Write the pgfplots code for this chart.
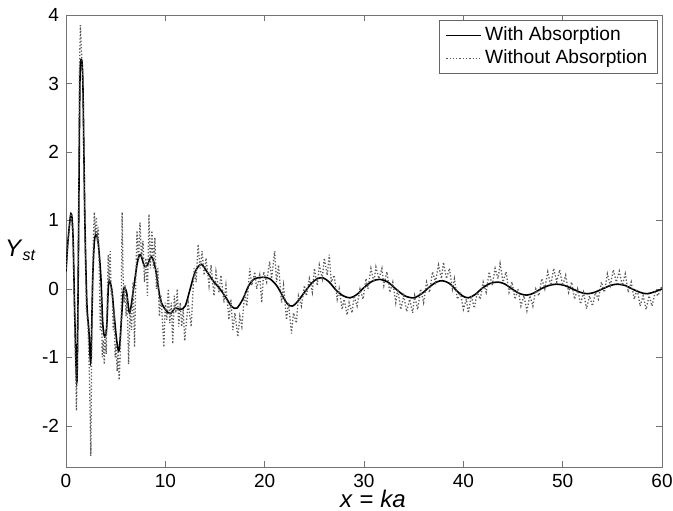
\documentclass[border=0pt]{standalone}
\usepackage{fontspec}
\setmainfont{Liberation Sans}
\usepackage{pgfplots}
\pgfplotsset{compat=1.18}

% Y_st response, with and without absorption
\begin{document}
\begin{tikzpicture}
\begin{axis}[
    scale only axis, width=298pt, height=226pt,
    xmin=0, xmax=60, ymin=-2.6, ymax=4,
    xtick={0,10,...,60}, ytick={-2,-1,...,4},
    axis line style={black!55}, tick style={black!55},
    major tick length=3pt, tick align=inside,
    tick label style={font=\fontsize{9.5}{10}\selectfont},
    /pgf/number format/assume math mode=true,
    xlabel={\textit{x} = \textit{ka}},
    xlabel style={font=\fontsize{12}{13}\selectfont, at={(rel axis cs:0.515,0)}, anchor=north, inner sep=0pt, yshift=-11.5pt},
    ylabel={\textit{Y}\textsubscript{\textit{st}}},
    ylabel style={font=\fontsize{12}{13}\selectfont, at={(rel axis cs:0,0.48)}, rotate=-90, anchor=east, inner sep=0pt, xshift=-14.5pt},
    legend style={at={(rel axis cs:0.993,0.99)}, anchor=north east, draw=black!60, font=\fontsize{9.6}{10}\selectfont, row sep=-1pt, inner xsep=3pt, inner ysep=1.5pt},
    legend cell align=left,
]
\addplot[black, line width=0.8pt, smooth, tension=0.5] coordinates {
(0,0.25)(0.2,0.7)(0.5,1.1)(0.7,0.8)(0.9,-0.5)(1.1,-1.35)(1.25,0.5)(1.4,3.0)(1.55,3.35)(1.7,3.0)
(1.9,1.0)(2.1,-0.2)(2.3,-0.6)(2.5,-1.05)(2.7,0.2)(2.9,0.75)(3.2,0.72)(3.5,0.2)(3.7,-0.5)(3.9,-0.7)
(4.1,-0.55)(4.3,0.1)(4.6,0.0)(4.8,-0.3)(5.1,-0.75)(5.35,-0.9)(5.6,-0.4)(5.8,0.0)(6.1,-0.05)(6.4,-0.35)
(6.8,0.0)(7.2,0.4)(7.5,0.5)(7.9,0.33)(8.2,0.35)(8.6,0.47)(9.0,0.3)(9.5,-0.15)(10.0,-0.3)(10.5,-0.36)
(11.0,-0.28)(11.5,-0.3)(12.0,-0.25)(12.5,0.0)(13.0,0.25)(13.6,0.36)(14.2,0.25)(14.8,0.12)(15.5,0.0)(16.2,-0.15)
(16.7,-0.26)(17.2,-0.28)(17.8,-0.15)(18.4,0.05)(19.0,0.15)(19.8,0.17)(20.5,0.15)(21.2,0.05)(21.8,-0.1)(22.3,-0.22)
(22.8,-0.25)(23.4,-0.17)(24.0,-0.05)(24.7,0.08)(25.3,0.15)(25.9,0.16)(26.5,0.1)(27.2,-0.02)(27.9,-0.1)(28.6,-0.13)
(29.3,-0.08)(30.0,0.02)(30.8,0.11)(31.6,0.14)(32.4,0.1)(33.2,0.0)(34.1,-0.1)(35.0,-0.13)(35.8,-0.07)(36.6,0.03)
(37.3,0.1)(37.9,0.12)(38.6,0.08)(39.3,-0.02)(39.9,-0.1)(40.5,-0.13)(41.2,-0.08)(41.9,0.01)(42.7,0.08)(43.5,0.1)
(44.2,0.07)(44.9,0.0)(45.7,-0.07)(46.4,-0.09)(47.1,-0.06)(47.8,0.0)(48.6,0.05)(49.4,0.07)(50.2,0.05)(51.0,0.0)
(51.8,-0.05)(52.5,-0.07)(53.2,-0.05)(54.0,0.0)(54.8,0.05)(55.5,0.07)(56.3,0.05)(57.0,0.0)(57.8,-0.05)(58.5,-0.07)
(59.3,-0.04)(60,0.0)
};
\addlegendentry{With Absorption}
\addplot[black!65, line width=0.65pt, densely dotted] coordinates {
(0.0,0.25)(0.2,0.7)(0.5,1.1)(0.7,0.8)(0.9,-0.6)(1.05,-1.78)(1.15,-0.9)(1.25,0.8)(1.35,3.2)(1.45,3.85)
(1.55,3.5)(1.7,3.0)(1.9,0.9)(2.05,-0.3)(2.2,-0.5)(2.35,-1.2)(2.5,-2.44)(2.6,-0.6)(2.75,0.7)(2.85,1.12)
(2.95,0.8)(3.05,1.05)(3.15,0.7)(3.25,0.9)(3.35,0.3)(3.45,-0.6)(3.55,-0.1)(3.65,-1.0)(3.75,-0.75)(3.85,-1.1)
(3.95,-0.6)(4.05,-0.95)(4.15,-0.2)(4.25,0.5)(4.35,0.1)(4.45,0.55)(4.55,-0.1)(4.65,0.0)(4.75,-0.6)(4.85,-0.3)
(4.95,-1.0)(5.05,-0.8)(5.15,-1.2)(5.25,-0.9)(5.35,-1.33)(5.45,-1.0)(5.55,-0.5)(5.65,1.12)(5.75,0.2)(5.85,-0.2)
(5.95,0.05)(6.05,-0.4)(6.15,-0.1)(6.3,-1.1)(6.45,-0.3)(6.6,-0.6)(6.75,0.1)(6.9,-0.85)(7.05,0.3)(7.15,0.85)
(7.3,0.4)(7.45,0.97)(7.6,0.45)(7.75,0.7)(7.9,0.1)(8.05,0.45)(8.2,-0.1)(8.35,1.09)(8.5,0.3)(8.65,0.85)
(8.8,0.3)(8.95,0.75)(9.1,0.0)(9.25,0.3)(9.4,-0.4)(9.55,-0.1)(9.7,-0.45)(9.85,-0.85)(10.0,-0.2)(10.15,-0.45)
(10.3,0.0)(10.45,-0.5)(10.6,-0.2)(10.75,-0.8)(10.9,-0.1)(11.05,-0.35)(11.2,0.0)(11.35,-0.55)(11.5,-0.2)(11.65,-0.55)
(11.8,-0.3)(11.95,-0.76)(12.3,-0.2)(12.6,-0.55)(12.9,0.3)(13.1,0.1)(13.3,0.65)(13.5,0.3)(13.7,0.55)(13.9,0.2)
(14.1,0.45)(14.4,0.05)(14.6,0.35)(14.9,-0.1)(15.1,0.25)(15.4,-0.05)(15.6,0.2)(15.9,-0.2)(16.1,0.05)(16.4,-0.45)
(16.6,-0.15)(16.8,-0.6)(17.0,-0.35)(17.3,-0.7)(17.5,-0.4)(17.7,-0.55)(18.0,-0.05)(18.2,-0.25)(18.5,0.3)(18.7,0.05)
(19.0,0.25)(19.2,0.0)(19.5,0.2)(19.7,-0.2)(19.9,0.25)(20.2,0.1)(20.5,0.4)(20.7,0.15)(21.0,0.55)(21.2,0.1)
(21.4,0.35)(21.7,-0.2)(21.9,0.05)(22.2,-0.45)(22.4,-0.2)(22.7,-0.65)(22.9,-0.35)(23.2,-0.5)(23.4,-0.1)(23.7,-0.25)
(24.0,0.05)(24.2,-0.1)(24.5,0.15)(24.8,-0.05)(25.0,0.3)(25.3,0.05)(25.5,0.35)(25.8,0.15)(26.0,0.45)(26.3,0.2)
(26.5,0.5)(26.7,0.1)(27.0,0.2)(27.3,-0.15)(27.5,0.0)(27.8,-0.3)(28.0,-0.15)(28.3,-0.38)(28.5,-0.2)(28.8,-0.35)
(29.0,-0.1)(29.3,-0.25)(29.6,0.0)(29.9,-0.15)(30.2,0.15)(30.4,0.0)(30.7,0.3)(31.0,0.1)(31.2,0.32)(31.5,0.15)
(31.8,0.3)(32.0,0.05)(32.3,0.25)(32.6,-0.05)(32.9,0.1)(33.2,-0.2)(33.4,0.0)(33.7,-0.3)(34.0,-0.1)(34.3,-0.33)
(34.6,-0.15)(34.9,-0.35)(35.1,-0.1)(35.4,-0.3)(35.7,0.0)(36.0,-0.2)(36.3,0.1)(36.6,-0.05)(36.9,0.25)(37.2,0.1)
(37.5,0.35)(37.8,0.15)(38.0,0.39)(38.3,0.15)(38.6,0.3)(38.9,0.0)(39.1,0.15)(39.4,-0.15)(39.7,-0.05)(40.0,-0.3)
(40.3,-0.15)(40.5,-0.35)(40.8,-0.1)(41.1,-0.28)(41.4,-0.05)(41.7,-0.15)(42.0,0.1)(42.3,-0.05)(42.6,0.25)(42.9,0.05)
(43.2,0.3)(43.5,0.15)(43.7,0.37)(44.0,0.1)(44.3,0.25)(44.6,-0.05)(44.9,0.1)(45.2,-0.15)(45.5,0.0)(45.8,-0.25)
(46.1,-0.1)(46.4,-0.32)(46.7,-0.1)(47.0,-0.25)(47.3,0.0)(47.6,-0.1)(47.9,0.15)(48.2,0.0)(48.5,0.25)(48.8,0.05)
(49.1,0.3)(49.4,0.1)(49.7,0.28)(50.0,0.05)(50.3,0.2)(50.6,-0.05)(50.9,0.1)(51.2,-0.15)(51.5,0.0)(51.8,-0.22)
(52.1,-0.05)(52.4,-0.29)(52.7,-0.1)(53.0,-0.25)(53.3,-0.05)(53.6,-0.15)(53.9,0.1)(54.2,-0.05)(54.5,0.22)(54.8,0.05)
(55.1,0.28)(55.4,0.1)(55.7,0.26)(56.0,0.05)(56.3,0.22)(56.6,-0.05)(56.9,0.1)(57.2,-0.15)(57.5,0.0)(57.8,-0.25)
(58.1,-0.1)(58.4,-0.3)(58.7,-0.1)(59.0,-0.25)(59.3,-0.05)(59.6,-0.1)(60.0,0.05)
};
\addlegendentry{Without Absorption}
\end{axis}
\pgfresetboundingbox
\path ([shift={(-33pt,-22pt)}]current axis.south west) rectangle ([shift={(5.5pt,7.5pt)}]current axis.north east);
\end{tikzpicture}
\end{document}
